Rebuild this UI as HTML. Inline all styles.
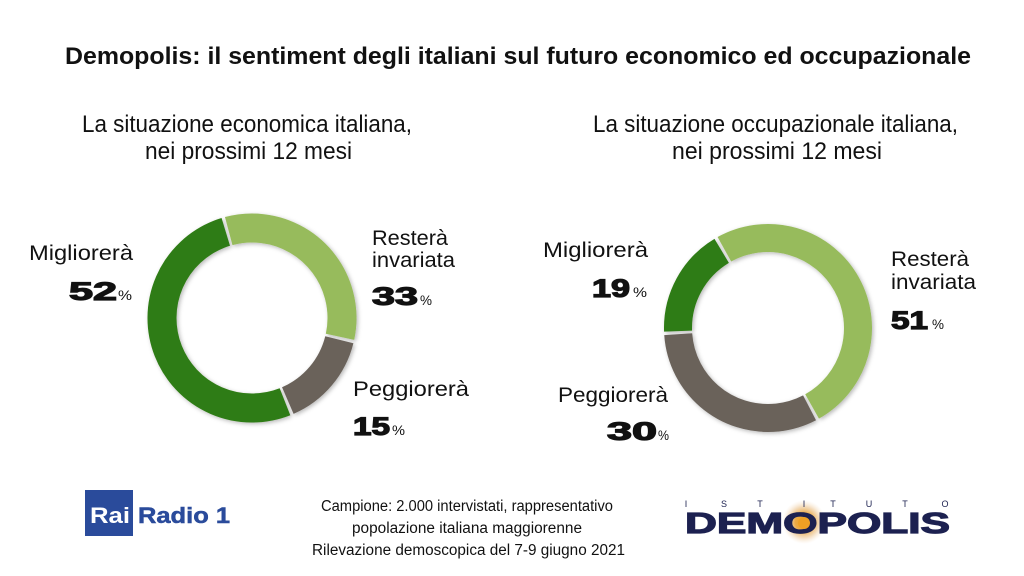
<!DOCTYPE html>
<html>
<head>
<meta charset="utf-8">
<style>
  html, body { margin:0; padding:0; background:#ffffff; }
  body { width:1024px; height:576px; overflow:hidden; }
  svg { display:block; }
  text { font-family: "Liberation Sans", "DejaVu Sans", sans-serif; fill:#111; }
</style>
</head>
<body>
<svg width="1024" height="576" viewBox="0 0 1024 576" xmlns="http://www.w3.org/2000/svg">
  <defs>
    <filter id="sh" x="-20%" y="-20%" width="140%" height="140%">
      <feDropShadow dx="1.5" dy="1.5" stdDeviation="2" flood-color="#000" flood-opacity="0.28"/>
    </filter>
    <radialGradient id="glow" cx="50%" cy="50%" r="50%">
      <stop offset="0%" stop-color="#f0a020" stop-opacity="1"/>
      <stop offset="40%" stop-color="#e9a030" stop-opacity="0.9"/>
      <stop offset="70%" stop-color="#e8b878" stop-opacity="0.5"/>
      <stop offset="100%" stop-color="#f4dcc0" stop-opacity="0"/>
    </radialGradient>
  </defs>

  <!-- Title -->
  <text x="65" y="64" font-size="24" font-weight="bold" textLength="906" lengthAdjust="spacingAndGlyphs">Demopolis: il sentiment degli italiani sul futuro economico ed occupazionale</text>

  <!-- Subtitles -->
  <text x="82" y="132" font-size="24" textLength="330" lengthAdjust="spacingAndGlyphs">La situazione economica italiana,</text>
  <text x="145" y="159" font-size="24" textLength="207" lengthAdjust="spacingAndGlyphs">nei prossimi 12 mesi</text>
  <text x="593" y="132" font-size="24" textLength="365" lengthAdjust="spacingAndGlyphs">La situazione occupazionale italiana,</text>
  <text x="672" y="159" font-size="24" textLength="210" lengthAdjust="spacingAndGlyphs">nei prossimi 12 mesi</text>

  <!-- Left donut: center (252,318), r=90 -->
  <g filter="url(#sh)" fill="none" stroke-width="29">
    <circle cx="252" cy="318" r="90" stroke="#97bb5c" stroke-dasharray="183.8 600" transform="rotate(-105 252 318)"/>
    <circle cx="252" cy="318" r="90" stroke="#6a625a" stroke-dasharray="82.5 600" transform="rotate(14 252 318)"/>
    <circle cx="252" cy="318" r="90" stroke="#2e7b12" stroke-dasharray="289.8 600" transform="rotate(68.5 252 318)"/>
  </g>

  <!-- Right donut: center (768,328), r=90 -->
  <g filter="url(#sh)" fill="none" stroke-width="28">
    <circle cx="768" cy="328" r="90" stroke="#97bb5c" stroke-dasharray="282.1 600" transform="rotate(-119 768 328)"/>
    <circle cx="768" cy="328" r="90" stroke="#6a625a" stroke-dasharray="178.3 600" transform="rotate(62.5 768 328)"/>
    <circle cx="768" cy="328" r="90" stroke="#2e7b12" stroke-dasharray="95.8 600" transform="rotate(178 768 328)"/>
  </g>

  <!-- Left labels -->
  <text x="29" y="260" font-size="21" textLength="104" lengthAdjust="spacingAndGlyphs">Migliorerà</text>
  <text x="69" y="300" font-size="25" font-weight="bold" stroke="#111" stroke-width="1.2" textLength="48" lengthAdjust="spacingAndGlyphs">52</text>
  <text x="118" y="300" font-size="14" textLength="14" lengthAdjust="spacingAndGlyphs">%</text>

  <text x="372" y="245" font-size="21" textLength="76" lengthAdjust="spacingAndGlyphs">Resterà</text>
  <text x="372" y="267" font-size="21" textLength="83" lengthAdjust="spacingAndGlyphs">invariata</text>
  <text x="372" y="305" font-size="25" font-weight="bold" stroke="#111" stroke-width="1.2" textLength="46" lengthAdjust="spacingAndGlyphs">33</text>
  <text x="420" y="305" font-size="14" textLength="12" lengthAdjust="spacingAndGlyphs">%</text>

  <text x="353" y="396" font-size="21" textLength="116" lengthAdjust="spacingAndGlyphs">Peggiorerà</text>
  <text x="353" y="435" font-size="25" font-weight="bold" stroke="#111" stroke-width="1.2" textLength="37" lengthAdjust="spacingAndGlyphs">15</text>
  <text x="392" y="435" font-size="14" textLength="13" lengthAdjust="spacingAndGlyphs">%</text>

  <!-- Right labels -->
  <text x="543" y="257" font-size="21" textLength="105" lengthAdjust="spacingAndGlyphs">Migliorerà</text>
  <text x="592" y="297" font-size="25" font-weight="bold" stroke="#111" stroke-width="1.2" textLength="38" lengthAdjust="spacingAndGlyphs">19</text>
  <text x="633" y="297" font-size="14" textLength="14" lengthAdjust="spacingAndGlyphs">%</text>

  <text x="558" y="402" font-size="21" textLength="110" lengthAdjust="spacingAndGlyphs">Peggiorerà</text>
  <text x="607" y="440" font-size="25" font-weight="bold" stroke="#111" stroke-width="1.2" textLength="50" lengthAdjust="spacingAndGlyphs">30</text>
  <text x="658" y="440" font-size="14" textLength="11" lengthAdjust="spacingAndGlyphs">%</text>

  <text x="891" y="266" font-size="21" textLength="78" lengthAdjust="spacingAndGlyphs">Resterà</text>
  <text x="891" y="289" font-size="21" textLength="85" lengthAdjust="spacingAndGlyphs">invariata</text>
  <text x="891" y="329" font-size="25" font-weight="bold" stroke="#111" stroke-width="1.2" textLength="37" lengthAdjust="spacingAndGlyphs">51</text>
  <text x="932" y="329" font-size="14" textLength="12" lengthAdjust="spacingAndGlyphs">%</text>

  <!-- Footer text -->
  <text x="321" y="511" font-size="15.5" textLength="292" lengthAdjust="spacingAndGlyphs">Campione: 2.000 intervistati, rappresentativo</text>
  <text x="352" y="533" font-size="15.5" textLength="230" lengthAdjust="spacingAndGlyphs">popolazione italiana maggiorenne</text>
  <text x="312" y="555" font-size="15.5" textLength="313" lengthAdjust="spacingAndGlyphs">Rilevazione demoscopica del 7-9 giugno 2021</text>

  <!-- Rai Radio 1 logo -->
  <rect x="85" y="490" width="48" height="46" fill="#2a4b9b"/>
  <text x="90" y="523" font-size="22" font-weight="bold" style="fill:#ffffff" textLength="40" lengthAdjust="spacingAndGlyphs">Rai</text>
  <text x="138" y="523" font-size="22" font-weight="bold" style="fill:#2a4b9b" stroke="#2a4b9b" stroke-width="0.5" textLength="92" lengthAdjust="spacingAndGlyphs">Radio 1</text>

  <!-- Istituto Demopolis logo -->
  <circle cx="804" cy="522" r="22" fill="url(#glow)"/>
  <g font-size="9">
    <text x="686" y="507" text-anchor="middle" style="fill:#1c2150">I</text>
    <text x="724" y="507" text-anchor="middle" style="fill:#1c2150">S</text>
    <text x="760" y="507" text-anchor="middle" style="fill:#1c2150">T</text>
    <text x="804" y="507" text-anchor="middle" style="fill:#1c2150">I</text>
    <text x="833" y="507" text-anchor="middle" style="fill:#1c2150">T</text>
    <text x="869" y="507" text-anchor="middle" style="fill:#1c2150">U</text>
    <text x="905" y="507" text-anchor="middle" style="fill:#1c2150">T</text>
    <text x="945" y="507" text-anchor="middle" style="fill:#1c2150">O</text>
  </g>
  <text x="685" y="533" font-size="29" font-weight="bold" style="fill:#1c2150" stroke="#1c2150" stroke-width="1.2" textLength="265" lengthAdjust="spacingAndGlyphs">DEMOPOLIS</text>
  <circle cx="804" cy="523" r="6" fill="#eea024"/>
</svg>
</body>
</html>
